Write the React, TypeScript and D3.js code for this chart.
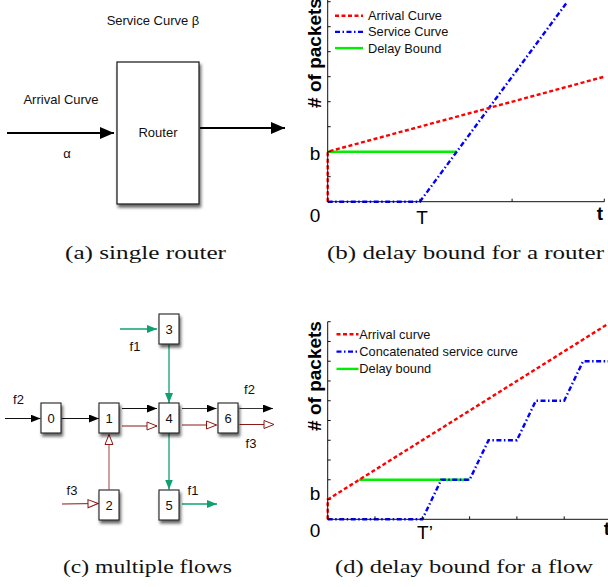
import React from "react";
import * as d3 from "d3";

// ---- Panel (b) data: single router ----
const arrivalB: [number, number][] = [[0, 0], [0, 2], [3, 5]];
const serviceB: [number, number][] = [[0, 0], [1, 0], [2.6, 8]];
const delayB: [number, number][] = [[0, 2], [1.4, 2]];
const xTicksB = [0, 1, 2, 3];
const yTicksB = [0, 1, 2, 3, 4, 5, 6, 7, 8];

// ---- Panel (d) data: flow ----
const arrivalD: [number, number][] = [[0, 0], [0, 1], [6, 10]];
const serviceD: [number, number][] = [
  [0, 0], [2, 0], [2.4, 2], [3, 2], [3.4, 4], [4, 4], [4.4, 6], [5, 6], [5.4, 8], [6, 8],
];
const delayD: [number, number][] = [[0.667, 2], [3, 2]];
const xTicksD = [0, 1, 2, 3, 4, 5, 6];
const yTicksD = [0, 1, 2, 3, 4, 5, 6, 7, 8, 9, 10];

const legendB = ["Arrival Curve", "Service Curve", "Delay Bound"];
const legendD = ["Arrival curve", "Concatenated service curve", "Delay bound"];

const captions = [
  "(a) single router",
  "(b) delay bound for a router",
  "(c) multiple flows",
  "(d) delay bound for a flow",
];

// network nodes for panel (c)
const nodes = [
  { id: "0", cx: 51, cy: 418 },
  { id: "1", cx: 109, cy: 418 },
  { id: "4", cx: 169, cy: 418 },
  { id: "6", cx: 228, cy: 418 },
  { id: "3", cx: 169, cy: 329 },
  { id: "2", cx: 109, cy: 505 },
  { id: "5", cx: 169, cy: 505 },
];

const RED = "#ff0000";
const BLUE = "#0000ff";
const GREEN = "#00ee00";
const TEAL = "#10a070";
const MAROON = "#8a1a12";
const SANS = "'Liberation Sans', Arial, Helvetica, sans-serif";
const SERIF = "'Liberation Serif', 'DejaVu Serif', serif";

const DASH_RED = "4,2.5";
const DASH_BLUE = "5,2.5,1.5,2.5";

function Plot({
  x, y, xTicks, yTicks, arrival, service, delay, legend, legendX, legendLen, legendTextX, legendY, legendDy,
  labelCenter, tickLabels, yTop, xRight,
}: any) {
  const line = d3.line<[number, number]>().x((d) => x(d[0])).y((d) => y(d[1]));
  const x0 = x(0);
  const y0 = y(0);
  return (
    <g>
      {/* curves */}
      <path d={line(delay) || ""} fill="none" stroke={GREEN} strokeWidth={2.6} />
      <path d={line(service) || ""} fill="none" stroke={BLUE} strokeWidth={2.4} strokeDasharray={DASH_BLUE} />
      <path d={line(arrival) || ""} fill="none" stroke={RED} strokeWidth={2.4} strokeDasharray={DASH_RED} />
      {/* axes */}
      <line x1={x0} x2={x0} y1={y0} y2={yTop} stroke="#111" strokeWidth={1} />
      <line x1={x0} x2={xRight} y1={y0} y2={y0} stroke="#111" strokeWidth={1} />
      {yTicks.map((t: number) => (
        <line key={"yt" + t} x1={x0} x2={x0 + 3} y1={y(t)} y2={y(t)} stroke="#111" strokeWidth={1} />
      ))}
      {xTicks.map((t: number) => (
        <line key={"xt" + t} x1={x(t)} x2={x(t)} y1={y0} y2={y0 - 3} stroke="#111" strokeWidth={1} />
      ))}
      {/* legend */}
      {legend.map((txt: string, i: number) => {
        const ly = legendY + i * legendDy;
        const stroke = i === 0 ? RED : i === 1 ? BLUE : GREEN;
        const dash = i === 0 ? DASH_RED : i === 1 ? DASH_BLUE : undefined;
        return (
          <g key={txt}>
            <line x1={legendX} x2={legendX + legendLen} y1={ly} y2={ly} stroke={stroke} strokeWidth={2.4} strokeDasharray={dash} />
            <text x={legendTextX} y={ly + 4.5} fontFamily={SANS} fontSize={12.8} fill="#111">{txt}</text>
          </g>
        );
      })}
      {/* y label */}
      <text
        transform={`translate(321,${labelCenter}) rotate(-90)`}
        textAnchor="middle"
        fontFamily={SANS}
        fontWeight="bold"
        fontSize={19}
        fill="#000"
      >
        # of packets
      </text>
      {tickLabels.map((tl: any) => (
        <text key={tl.t} x={tl.x} y={tl.y} textAnchor="middle" fontFamily={SANS} fontSize={19}
          fontWeight={tl.bold ? "bold" : "normal"} fill="#000">{tl.t}</text>
      ))}
    </g>
  );
}

export default function App() {
  const xB = d3.scaleLinear().domain([0, 3]).range([327.7, 604.3]);
  const yB = d3.scaleLinear().domain([0, 8]).range([201.7, 1.7]);
  const xD = d3.scaleLinear().domain([0, 6]).range([327.7, 611.5]);
  const yD = d3.scaleLinear().domain([0, 10]).range([519.3, 321.7]);

  const captionPos = [
    { x: 65, y: 259, w: 161 },
    { x: 327, y: 259, w: 277 },
    { x: 63, y: 573, w: 169 },
    { x: 335, y: 573, w: 258 },
  ];

  return (
    <svg width={608} height={587} style={{ position: "absolute", left: 0, top: 0, background: "#fff" }}>
      <defs>
        <filter id="shadow" x="-30%" y="-30%" width="160%" height="160%">
          <feDropShadow dx={1.5} dy={3} stdDeviation={1.6} floodColor="#000" floodOpacity={0.6} />
        </filter>
        <marker id="bigArrow" viewBox="0 0 14 12" refX={14} refY={6} markerWidth={14} markerHeight={12} markerUnits="userSpaceOnUse" orient="auto">
          <path d="M0,0 L14,6 L0,12 z" fill="#000" />
        </marker>
        <marker id="blackArrow" viewBox="0 0 10 8" refX={10} refY={4} markerWidth={10} markerHeight={8} markerUnits="userSpaceOnUse" orient="auto">
          <path d="M0,0 L10,4 L0,8 z" fill="#000" />
        </marker>
        <marker id="greenArrow" viewBox="0 0 10 8" refX={10} refY={4} markerWidth={10} markerHeight={8} markerUnits="userSpaceOnUse" orient="auto">
          <path d="M0,0 L10,4 L0,8 z" fill={TEAL} />
        </marker>
        <marker id="redArrow" viewBox="-1 -1 12 10" refX={10} refY={4} markerWidth={12} markerHeight={10} markerUnits="userSpaceOnUse" orient="auto">
          <path d="M0,0 L10,4 L0,8 z" fill="#fff" stroke={MAROON} strokeWidth={1} />
        </marker>
      </defs>

      {/* ---------- Panel (a) ---------- */}
      <text x={153} y={25} textAnchor="middle" fontFamily={SANS} fontSize={13} fill="#111">Service Curve β</text>
      <rect x={117} y={62} width={82} height={142} fill="#fff" stroke="#222" strokeWidth={1.3} filter="url(#shadow)" />
      <text x={158} y={137} textAnchor="middle" fontFamily={SANS} fontSize={13} fill="#111">Router</text>
      <text x={61} y={104} textAnchor="middle" fontFamily={SANS} fontSize={13} fill="#111">Arrival Curve</text>
      <text x={67} y={158} textAnchor="middle" fontFamily={SANS} fontSize={13} fill="#111">α</text>
      <line x1={7} y1={133} x2={114} y2={133} stroke="#000" strokeWidth={2} markerEnd="url(#bigArrow)" />
      <line x1={200} y1={128} x2={285} y2={128} stroke="#000" strokeWidth={2} markerEnd="url(#bigArrow)" />

      {/* ---------- Panel (b) ---------- */}
      <Plot
        x={xB} y={yB} xTicks={xTicksB} yTicks={yTicksB}
        arrival={arrivalB} service={serviceB} delay={delayB}
        legend={legendB} legendX={335} legendLen={28} legendTextX={368} legendY={15.7} legendDy={16.2}
        labelCenter={53} yTop={0} xRight={604.3}
        tickLabels={[
          { t: "b", x: 315, y: 160 },
          { t: "0", x: 315, y: 222 },
          { t: "T", x: 422, y: 224 },
          { t: "t", x: 600, y: 220, bold: true },
        ]}
      />

      {/* ---------- Panel (c) ---------- */}
      {/* black f2 */}
      <line x1={5} y1={418.5} x2={40.5} y2={418.5} stroke="#111" strokeWidth={1.1} markerEnd="url(#blackArrow)" />
      <line x1={61.5} y1={418.5} x2={99} y2={418.5} stroke="#111" strokeWidth={1.1} markerEnd="url(#blackArrow)" />
      <line x1={122} y1={408.5} x2={157} y2={408.5} stroke="#111" strokeWidth={1.1} markerEnd="url(#blackArrow)" />
      <line x1={182} y1={408.5} x2={216.5} y2={408.5} stroke="#333" strokeWidth={1.1} markerEnd="url(#blackArrow)" />
      <line x1={239.5} y1={408.5} x2={273} y2={408.5} stroke="#333" strokeWidth={1.1} markerEnd="url(#blackArrow)" />
      {/* maroon f3 */}
      <line x1={62} y1={504} x2={98} y2={503.5} stroke={MAROON} strokeWidth={1.1} markerEnd="url(#redArrow)" />
      <line x1={109} y1={489.5} x2={109} y2={434.5} stroke={MAROON} strokeWidth={1.1} strokeOpacity={0.75} markerEnd="url(#redArrow)" />
      <line x1={122} y1={426} x2={157} y2={426} stroke={MAROON} strokeWidth={1.1} markerEnd="url(#redArrow)" />
      <line x1={182} y1={425} x2={216.5} y2={425} stroke={MAROON} strokeWidth={1.1} markerEnd="url(#redArrow)" />
      <line x1={239.5} y1={424.5} x2={274} y2={424.5} stroke={MAROON} strokeWidth={1.1} markerEnd="url(#redArrow)" />
      {/* teal f1 */}
      <line x1={120} y1={329} x2={157} y2={329} stroke={TEAL} strokeWidth={1.3} markerEnd="url(#greenArrow)" />
      <line x1={169} y1={344.5} x2={169} y2={403} stroke={TEAL} strokeWidth={1.3} markerEnd="url(#greenArrow)" />
      <line x1={169} y1={433} x2={169} y2={489.5} stroke={TEAL} strokeWidth={1.3} markerEnd="url(#greenArrow)" />
      <line x1={182} y1={504} x2={217} y2={504} stroke={TEAL} strokeWidth={1.3} markerEnd="url(#greenArrow)" />
      {nodes.map((n) => (
        <g key={n.id}>
          <rect x={n.cx - 10} y={n.cy - 15} width={20} height={30} fill="#fff" stroke="#222" strokeWidth={1.1} filter="url(#shadow)" />
          <text x={n.cx} y={n.cy + 4.5} textAnchor="middle" fontFamily={SANS} fontSize={13} fill="#111">{n.id}</text>
        </g>
      ))}
      {[
        { t: "f2", x: 18.5, y: 404 },
        { t: "f1", x: 135, y: 351 },
        { t: "f2", x: 249.5, y: 393.5 },
        { t: "f3", x: 251, y: 448 },
        { t: "f3", x: 72, y: 495 },
        { t: "f1", x: 193, y: 495 },
      ].map((l, i) => (
        <text key={i} x={l.x} y={l.y} textAnchor="middle" fontFamily={SANS} fontSize={13} fill="#111">{l.t}</text>
      ))}

      {/* ---------- Panel (d) ---------- */}
      <Plot
        x={xD} y={yD} xTicks={xTicksD} yTicks={yTicksD}
        arrival={arrivalD} service={serviceD} delay={delayD}
        legend={legendD} legendX={336.5} legendLen={22} legendTextX={359.3} legendY={334.3} legendDy={17.3}
        labelCenter={376} yTop={321.7} xRight={611.5}
        tickLabels={[
          { t: "b", x: 315, y: 500 },
          { t: "0", x: 315, y: 537 },
          { t: "T’", x: 425, y: 539 },
          { t: "t", x: 607, y: 535, bold: true },
        ]}
      />

      {/* ---------- captions ---------- */}
      {captions.map((c, i) => (
        <text key={c} x={captionPos[i].x} y={captionPos[i].y} fontFamily={SERIF} fontSize={18}
          textLength={captionPos[i].w} lengthAdjust="spacingAndGlyphs" fill="#111">{c}</text>
      ))}
    </svg>
  );
}
